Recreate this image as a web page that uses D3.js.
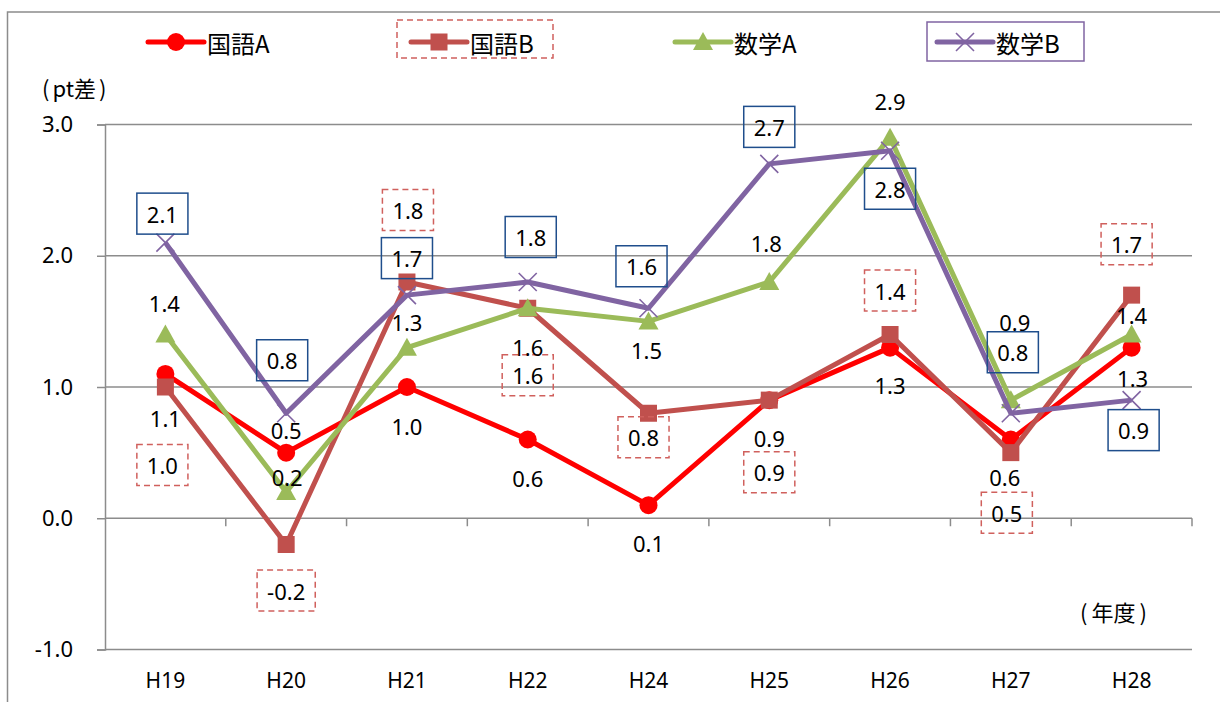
<!DOCTYPE html>
<html>
<head>
<meta charset="utf-8">
<script src="https://cdn.jsdelivr.net/npm/d3@7"></script>
<style>
  body { margin: 0; background: #fff; }
  svg { display: block; }
</style>
</head>
<body>
<svg id="chart" width="1220" height="702"></svg>
<script>
// data
const categories = ["H19", "H20", "H21", "H22", "H24", "H25", "H26", "H27", "H28"];
const kokugoA = [1.1, 0.5, 1.0, 0.6, 0.1, 0.9, 1.3, 0.6, 1.3];
const kokugoB = [1.0, -0.2, 1.8, 1.6, 0.8, 0.9, 1.4, 0.5, 1.7];
const sugakuA = [1.4, 0.2, 1.3, 1.6, 1.5, 1.8, 2.9, 0.9, 1.4];
const sugakuB = [2.1, 0.8, 1.7, 1.8, 1.6, 2.7, 2.8, 0.8, 0.9];
const yTicks = [-1, 0, 1, 2, 3];
const seriesNames = ["国語A", "国語B", "数学A", "数学B"];

// hand placed label offsets (px from the point), like the original
const offKokugoA = [[0, 44], [0, -23], [0, 39], [0, 38], [0, 38], [0, 38], [0, 37], [-6, 37], [1, 30]];
const offKokugoB = [[-3, 78], [0, 46], [1, -72], [0, 67], [-5, 24], [0, 72], [0, -44], [-4, 60], [-5, -51]];
const offSugakuA = [[-1, -32], [1, -15], [0, -26], [0, 39], [-2, 29], [-3, -39], [0, -37], [4, -78], [0, -20]];
const offSugakuB = [[-3, -29], [-4, -53], [0, -37], [3, -45], [-7, -42], [0, -37], [0, 38], [2, -61], [2, 30]];

const svg = d3.select("#chart");
const numFont = "'Noto Sans', 'DejaVu Sans', sans-serif";
const jpFont = "'Noto Sans CJK JP', 'Noto Sans', sans-serif";

const plotL = 105, plotR = 1192, plotT = 124.5, plotB = 649.5;

var x = d3.scaleBand().domain(categories).range([plotL, plotR]).padding(0);
var y = d3.scaleLinear().domain([-1, 3]).range([plotB, plotT]);
const cx = c => x(c) + x.bandwidth() / 2;

// outer chart border (only top/left show in the crop)
svg.append("rect")
  .attr("x", 7.5).attr("y", 12)
  .attr("width", 1300).attr("height", 800)
  .attr("fill", "none").attr("stroke", "#8c8c8c").attr("stroke-width", 1.5);

// grid + y axis
var yAxis = svg.append("g")
  .attr("transform", `translate(${plotL},0)`)
  .call(d3.axisLeft(y).tickValues(yTicks).tickSize(8).tickPadding(24)
    .tickFormat(d => d.toFixed(1)));
yAxis.select(".domain").attr("stroke", "#8c8c8c").attr("stroke-width", 1.5);
yAxis.selectAll(".tick line").attr("stroke", "#8c8c8c").attr("stroke-width", 1.5);
yAxis.selectAll(".tick text")
  .attr("font-family", numFont).attr("font-size", 22).attr("fill", "#000");

svg.append("g").selectAll("line")
  .data(yTicks)
  .join("line")
  .attr("x1", plotL).attr("x2", plotR)
  .attr("y1", d => y(d)).attr("y2", d => y(d))
  .attr("stroke", "#8c8c8c").attr("stroke-width", 1.5);

// category ticks hang off the zero line
const tickPos = categories.map(c => x(c) + x.bandwidth());
svg.append("g").selectAll("line")
  .data(tickPos)
  .join("line")
  .attr("x1", d => d).attr("x2", d => d)
  .attr("y1", y(0)).attr("y2", y(0) + 8)
  .attr("stroke", "#8c8c8c").attr("stroke-width", 1.5);

// category labels at the bottom
var xAxis = svg.append("g")
  .attr("transform", `translate(0,${plotB})`)
  .call(d3.axisBottom(x).tickSize(0).tickPadding(24));
xAxis.select(".domain").remove();
xAxis.selectAll(".tick text")
  .attr("font-family", numFont).attr("font-size", 21).attr("fill", "#000");

// axis titles, parens spaced out like the original
function parenTitle(px, py, inner, gap) {
  var t = svg.append("text")
    .attr("x", px).attr("y", py)
    .attr("font-family", jpFont).attr("font-size", 22).attr("fill", "#000");
  t.append("tspan").text("(");
  t.append("tspan").attr("dx", gap).text(inner);
  t.append("tspan").attr("dx", gap).text(")");
}
parenTitle(42, 97, "pt差", 3);
parenTitle(1080, 621, "年度", 4);

// marker shapes
function marker(g, kind, color) {
  if (kind === "circle") {
    g.append("circle").attr("r", 9).attr("fill", color);
  } else if (kind === "square") {
    g.append("rect").attr("x", -8.5).attr("y", -8.5).attr("width", 17).attr("height", 17).attr("fill", color);
  } else if (kind === "triangle") {
    g.append("path").attr("d", "M0,-10L10,8L-10,8Z").attr("fill", color);
  } else {
    g.append("path").attr("d", "M-9,-9L9,9M-9,9L9,-9")
      .attr("stroke", color).attr("stroke-width", 1.6).attr("fill", "none");
  }
}

const series = [
  { name: seriesNames[0], values: kokugoA, color: "#ff0000", kind: "circle", offs: offKokugoA, box: null },
  { name: seriesNames[1], values: kokugoB, color: "#c0504d", kind: "square", offs: offKokugoB, box: "dash" },
  { name: seriesNames[2], values: sugakuA, color: "#9bbb59", kind: "triangle", offs: offSugakuA, box: null },
  { name: seriesNames[3], values: sugakuB, color: "#8064a2", kind: "x", offs: offSugakuB, box: "solid" }
];

var line = d3.line().x((d, i) => cx(categories[i])).y(d => y(d));

series.forEach(s => {
  svg.append("path")
    .attr("d", line(s.values))
    .attr("fill", "none").attr("stroke", s.color)
    .attr("stroke-width", 5).attr("stroke-linejoin", "round");
  s.values.forEach((v, i) => {
    var g = svg.append("g").attr("transform", `translate(${cx(categories[i])},${y(v)})`);
    marker(g, s.kind, s.color);
  });
});

// data labels on top
series.forEach(s => {
  s.values.forEach((v, i) => {
    var lx = cx(categories[i]) + s.offs[i][0];
    var ly = y(v) + s.offs[i][1];
    var t = svg.append("text")
      .attr("x", lx).attr("y", ly)
      .attr("text-anchor", "middle").attr("dominant-baseline", "central")
      .attr("font-family", numFont).attr("font-size", 22).attr("fill", "#000")
      .text(v.toFixed(1));
    if (s.box) {
      var w = t.node().getComputedTextLength() + 20;
      svg.insert("rect", () => t.node())
        .attr("x", lx - w / 2).attr("y", ly - 20.5)
        .attr("width", w).attr("height", 41)
        .attr("fill", "none")
        .attr("stroke", s.box === "dash" ? "#d0605d" : "#1f4e8c")
        .attr("stroke-width", 1.5)
        .attr("stroke-dasharray", s.box === "dash" ? "6,4" : null);
    }
  });
});

// legend
const legendX = [148, 411, 675, 937];
series.forEach((s, i) => {
  var g = svg.append("g").attr("transform", `translate(${legendX[i]},42)`);
  g.append("line").attr("x1", 0).attr("x2", 56)
    .attr("stroke", s.color).attr("stroke-width", 5).attr("stroke-linecap", "round");
  var m = g.append("g").attr("transform", "translate(28,0)");
  marker(m, s.kind, s.color);
  g.append("text").attr("x", 59).attr("y", 0)
    .attr("dominant-baseline", "central")
    .attr("font-family", jpFont).attr("font-size", 24).attr("fill", "#000")
    .text(s.name);
});
svg.append("rect")
  .attr("x", 397).attr("y", 20).attr("width", 156).attr("height", 38)
  .attr("fill", "none").attr("stroke", "#d0605d").attr("stroke-width", 1.5)
  .attr("stroke-dasharray", "6,4");
svg.append("rect")
  .attr("x", 927).attr("y", 22).attr("width", 157).attr("height", 39)
  .attr("fill", "none").attr("stroke", "#8064a2").attr("stroke-width", 1.5);
</script>
</body>
</html>
